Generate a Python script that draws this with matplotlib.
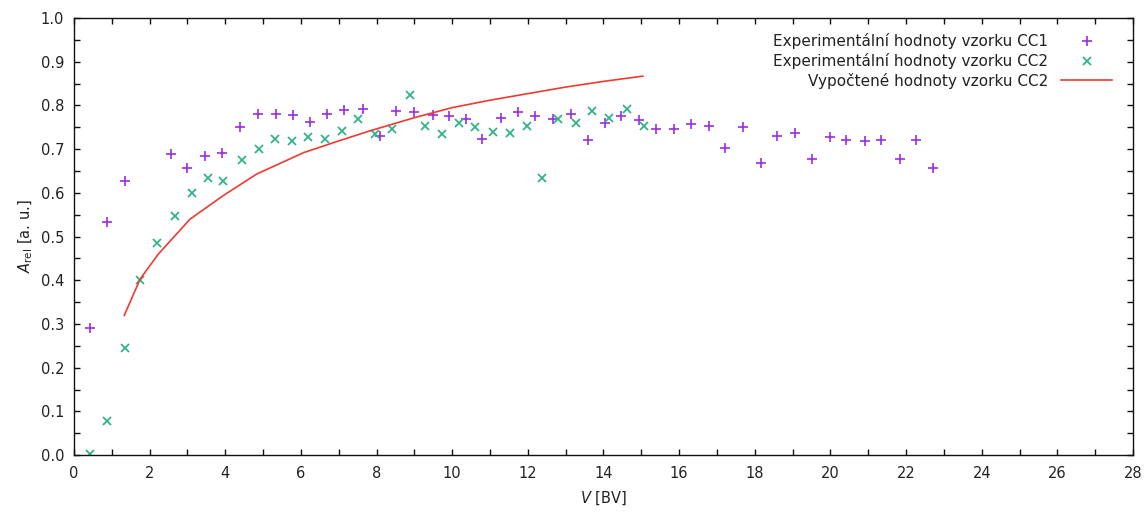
import matplotlib
matplotlib.use("Agg")
import matplotlib.pyplot as plt
from matplotlib.ticker import MultipleLocator, FormatStrFormatter

# CC1 measured points
V_CC1 = [0.42, 0.87, 1.35, 2.56, 3.00, 3.47, 3.92, 4.40, 4.86, 5.33, 5.80, 6.24,
         6.68, 7.15, 7.64, 8.08, 8.52, 9.00, 9.49, 9.91, 10.37, 10.80, 11.28, 11.75,
         12.20, 12.66, 13.14, 13.59, 14.03, 14.47, 14.95, 15.40, 15.87, 16.31, 16.78,
         17.22, 17.68, 18.16, 18.59, 19.07, 19.52, 19.98, 20.42, 20.91, 21.35, 21.83,
         22.27, 22.71]
A_CC1 = [0.292, 0.533, 0.627, 0.690, 0.658, 0.684, 0.692, 0.751, 0.781, 0.781, 0.778, 0.763,
         0.781, 0.789, 0.791, 0.731, 0.788, 0.784, 0.779, 0.776, 0.769, 0.724, 0.772, 0.785,
         0.776, 0.769, 0.780, 0.721, 0.760, 0.775, 0.767, 0.746, 0.746, 0.757, 0.752,
         0.702, 0.750, 0.668, 0.731, 0.738, 0.677, 0.727, 0.721, 0.719, 0.721, 0.677,
         0.721, 0.658]

# CC2 measured points
V_CC2 = [0.42, 0.87, 1.35, 1.75, 2.19, 2.67, 3.11, 3.55, 3.95, 4.44, 4.88, 5.32,
         5.76, 6.20, 6.64, 7.08, 7.52, 7.96, 8.40, 8.89, 9.29, 9.74, 10.17, 10.61,
         11.09, 11.53, 11.98, 12.37, 12.81, 13.26, 13.70, 14.15, 14.62, 15.06]
A_CC2 = [0.002, 0.078, 0.246, 0.400, 0.485, 0.546, 0.599, 0.633, 0.627, 0.675, 0.700, 0.723,
         0.719, 0.728, 0.724, 0.742, 0.769, 0.734, 0.746, 0.823, 0.753, 0.734, 0.760, 0.750,
         0.740, 0.738, 0.753, 0.634, 0.769, 0.760, 0.788, 0.772, 0.791, 0.753]

# CC2 model curve
V_FIT = [1.33, 1.75, 2.23, 3.07, 3.95, 4.83, 6.07, 7.04, 7.83, 9.0, 10.0, 11.0, 12.0, 13.0, 14.0, 15.04]
A_FIT = [0.320, 0.403, 0.460, 0.540, 0.594, 0.643, 0.692, 0.720, 0.742, 0.772, 0.795, 0.812,
         0.827, 0.842, 0.855, 0.867]

LABELS = [
    "Experimentální hodnoty vzorku CC1",
    "Experimentální hodnoty vzorku CC2",
    "Vypočtené hodnoty vzorku CC2",
]

TEXT = "#222222"

plt.rcParams.update({
    "font.family": "DejaVu Sans",
    "font.size": 10,
    "mathtext.fontset": "dejavusans",
})

fig = plt.figure(figsize=(11.47, 5.22), dpi=100)
ax = fig.add_axes([0.0645, 0.128, 0.9233, 0.8375])

ax.plot(V_CC1, A_CC1, linestyle="none", marker="+", markersize=7.5, markeredgewidth=1.2,
        color="#9a2ee0", label=LABELS[0])
ax.plot(V_CC2, A_CC2, linestyle="none", marker="x", markersize=6, markeredgewidth=1.3,
        color="#33b38a", label=LABELS[1])
ax.plot(V_FIT, A_FIT, color="#ee3a30", linewidth=1.2, label=LABELS[2])

ax.set_xlim(0, 28)
ax.set_ylim(0, 1.0)
ax.xaxis.set_major_locator(MultipleLocator(2))
ax.xaxis.set_minor_locator(MultipleLocator(1))
ax.yaxis.set_major_locator(MultipleLocator(0.1))
ax.yaxis.set_minor_locator(MultipleLocator(0.05))
ax.yaxis.set_major_formatter(FormatStrFormatter("%.1f"))
ax.tick_params(which="both", direction="in", top=True, right=True, length=4.5,
               width=1.0, colors="#111111", labelcolor=TEXT, labelsize=10.5)
ax.tick_params(axis="x", pad=8)
ax.tick_params(axis="y", pad=7)
for s in ax.spines.values():
    s.set_linewidth(1.0)
    s.set_color("#111111")

ax.set_xlabel("$V$ [BV]", color=TEXT, fontsize=10.5, labelpad=6)
ax.set_ylabel(r"$A_{\mathrm{rel}}$ [a. u.]", color=TEXT, fontsize=10.5, labelpad=4)

leg = ax.legend(loc="upper right", frameon=False, markerfirst=False, fontsize=11,
                handlelength=3.3, handletextpad=0.85, labelspacing=0.25,
                borderaxespad=0.3, bbox_to_anchor=(0.99, 0.99))
for t in leg.get_texts():
    t.set_color(TEXT)

fig.savefig("out.png", dpi=100)
